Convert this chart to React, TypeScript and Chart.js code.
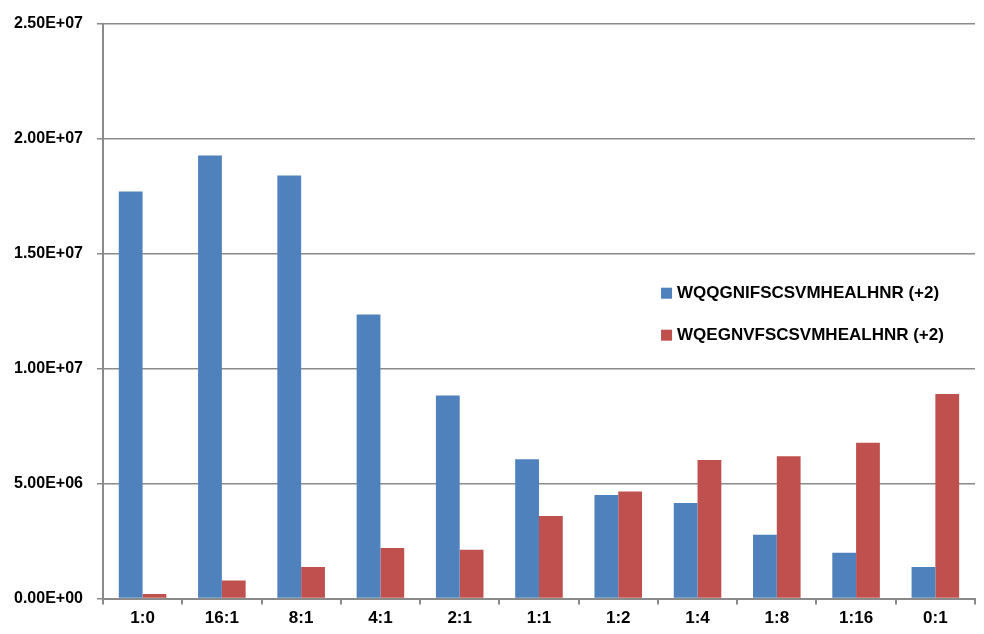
import React, { useEffect, useRef } from "react";
import { Chart, registerables } from "chart.js";

Chart.register(...registerables);

const categories = ["1:0", "16:1", "8:1", "4:1", "2:1", "1:1", "1:2", "1:4", "1:8", "1:16", "0:1"];
const seriesAName = "WQQGNIFSCSVMHEALHNR (+2)";
const seriesBName = "WQEGNVFSCSVMHEALHNR (+2)";
const seriesA = [17.7e6, 19.26e6, 18.4e6, 12.35e6, 8.83e6, 6.06e6, 4.5e6, 4.16e6, 2.78e6, 1.99e6, 1.37e6];
const seriesB = [0.2e6, 0.79e6, 1.37e6, 2.2e6, 2.12e6, 3.59e6, 4.66e6, 6.03e6, 6.19e6, 6.78e6, 8.9e6];
const yMin = 0;
const yMax = 2.5e7;
const yStep = 5e6;

const colorA = "#4F81BD";
const colorB = "#C0504D";
const gridColor = "#8a8a8a";
const FONT = "'Liberation Sans', Arial, sans-serif";

function fmtSci(v: number): string {
  if (v === 0) return "0.00E+00";
  const exp = Math.floor(Math.log10(Math.abs(v)));
  const mant = v / Math.pow(10, exp);
  const sign = exp < 0 ? "-" : "+";
  const e = String(Math.abs(exp)).padStart(2, "0");
  return mant.toFixed(2) + "E" + sign + e;
}

const legendPlugin = {
  id: "insideLegend",
  afterDraw(chart: any) {
    const { ctx, chartArea } = chart;
    const x = chartArea.left + 0.64 * (chartArea.right - chartArea.left);
    const y0 = chartArea.top + 0.468 * (chartArea.bottom - chartArea.top);
    const gap = 42;
    const items = chart.data.datasets.map((d: any) => ({ label: d.label, color: d.backgroundColor }));
    ctx.save();
    ctx.font = `bold 17px ${FONT}`;
    ctx.textBaseline = "middle";
    ctx.textAlign = "left";
    items.forEach((it: any, i: number) => {
      const y = y0 + i * gap;
      ctx.fillStyle = it.color;
      ctx.fillRect(x, y - 5, 11, 11);
      ctx.fillStyle = "#000";
      ctx.fillText(it.label, x + 16, y + 1);
    });
    ctx.restore();
  },
};

export default function App() {
  const canvasRef = useRef<HTMLCanvasElement | null>(null);

  useEffect(() => {
    document.body.style.margin = "0";
    const canvas = canvasRef.current;
    if (!canvas) return;
    const chart = new Chart(canvas, {
      type: "bar",
      data: {
        labels: categories,
        datasets: [
          { label: seriesAName, data: seriesA, backgroundColor: colorA, borderWidth: 0 },
          { label: seriesBName, data: seriesB, backgroundColor: colorB, borderWidth: 0 },
        ],
      },
      options: {
        animation: false,
        responsive: false,
        maintainAspectRatio: false,
        layout: { padding: { left: 0, right: 9, top: 5, bottom: 1 } },
        datasets: { bar: { categoryPercentage: 0.6, barPercentage: 1.0 } },
        plugins: {
          legend: { display: false },
          tooltip: { enabled: false },
        },
        scales: {
          x: {
            grid: {
              display: true,
              drawOnChartArea: false,
              drawTicks: true,
              tickLength: 6,
              color: gridColor,
              lineWidth: 2,
              offset: true,
            },
            border: { display: true, color: gridColor, width: 2 },
            ticks: {
              color: "#000",
              font: { family: FONT, size: 17, weight: "bold" },
              padding: 4,
              maxRotation: 0,
              autoSkip: false,
            },
          },
          y: {
            min: yMin,
            max: yMax,
            grid: {
              display: true,
              drawOnChartArea: true,
              drawTicks: true,
              tickLength: 6,
              color: gridColor,
              lineWidth: 1.5,
            },
            border: { display: true, color: gridColor, width: 2 },
            ticks: {
              stepSize: yStep,
              color: "#000",
              font: { family: FONT, size: 16, weight: "bold" },
              padding: 14,
              callback: (v: any) => fmtSci(Number(v)),
            },
          },
        },
      },
      plugins: [legendPlugin],
    });
    return () => chart.destroy();
  }, []);

  return (
    <div style={{ width: 984, height: 634, background: "#fff" }}>
      <canvas ref={canvasRef} width={984} height={634} style={{ display: "block" }} />
    </div>
  );
}
